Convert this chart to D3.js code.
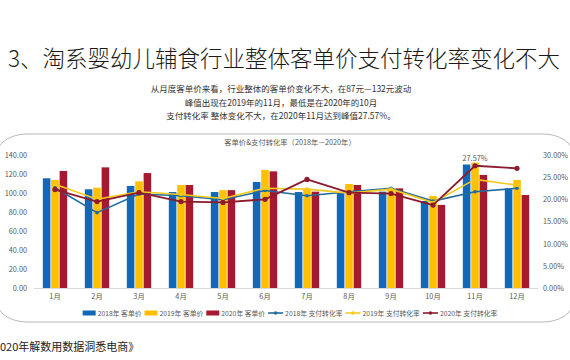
<!DOCTYPE html>
<html>
<head>
<meta charset="utf-8">
<script src="https://cdn.jsdelivr.net/npm/d3@7"></script>
<style>
  html, body { margin: 0; padding: 0; background: #fff; }
  svg { display: block; font-family: "Noto Sans CJK SC", "Noto Sans", sans-serif; }
</style>
</head>
<body>
<svg id="chart" width="570" height="360"></svg>
<script>
// ---------- data ----------
const months = ["1月","2月","3月","4月","5月","6月","7月","8月","9月","10月","11月","12月"];
const barSeries = ["2018年 客单价","2019年 客单价","2020年 客单价"];
const lineSeries = ["2018年 支付转化率","2019年 支付转化率","2020年 支付转化率"];
const price2018 = [115.5, 103.9, 107.4, 101.0, 101.0, 111.6, 101.0, 100.4, 101.4, 91.6, 130.0, 105.0];
const price2019 = [113.7, 105.6, 112.3, 108.4, 103.0, 124.2, 104.6, 109.5, 103.9, 96.8, 132.0, 113.7];
const price2020 = [123.2, 127.0, 121.0, 108.4, 103.0, 122.8, 101.4, 108.4, 104.9, 87.5, 119.0, 97.9];
const rate2018 = [0.226, 0.170, 0.212, 0.208, 0.199, 0.220, 0.208, 0.217, 0.225, 0.196, 0.217, 0.225];
const rate2019 = [0.234, 0.200, 0.217, 0.211, 0.202, 0.225, 0.223, 0.214, 0.223, 0.193, 0.245, 0.232];
const rate2020 = [0.222, 0.195, 0.215, 0.195, 0.193, 0.200, 0.245, 0.215, 0.213, 0.187, 0.2757, 0.270];
const leftTicks = [0, 20, 40, 60, 80, 100, 120, 140];
const rightTicks = [0, 0.05, 0.10, 0.15, 0.20, 0.25, 0.30];
const titleText = "3、淘系婴幼儿辅食行业整体客单价支付转化率变化不大";
const subLines = [
  "从月度客单价来看，行业整体的客单价变化不大，在87元—132元波动",
  "峰值出现在2019年的11月，最低是在2020年的10月",
  "支付转化率 整体变化不大，在2020年11月达到峰值27.57%。"
];
const chartTitle = "客单价&支付转化率（2018年—2020年）";
const footerText = "020年解数用数据洞悉电商》";
const peakLabel = "27.57%";

const barColors = ["#1268B8", "#FFC000", "#A51A30"];
const lineColors = ["#1F6C9E", "#F3C91E", "#8C1B2E"];
const priceData = [price2018, price2019, price2020];
const rateData = [rate2018, rate2019, rate2020];

// ---------- layout ----------
const svg = d3.select("#chart");
const plot = { left: 34, right: 538, top: 155, bottom: 288 };

// page title
svg.append("text").attr("x", 284).attr("y", 57)
  .attr("text-anchor", "middle").attr("dominant-baseline", "central")
  .attr("font-size", 22.5).attr("font-weight", 300).attr("fill", "#1a1a1a").text(titleText);

// subtitle
subLines.forEach((t, i) => {
  svg.append("text").attr("x", 281).attr("y", 88 + i * 13.5)
    .attr("text-anchor", "middle").attr("dominant-baseline", "central")
    .attr("font-size", 8.5).attr("fill", "#333").text(t);
});

// frame
svg.append("rect").attr("x", -3).attr("y", 134).attr("width", 576).attr("height", 188)
  .attr("rx", 30).attr("ry", 20).attr("fill", "#fff").attr("stroke", "#b8b8b8").attr("stroke-width", 1);

// chart title
svg.append("text").attr("x", 290).attr("y", 142)
  .attr("text-anchor", "middle").attr("dominant-baseline", "central")
  .attr("font-size", 7.3).attr("fill", "#595959").text(chartTitle);

// scales
const x0 = d3.scaleBand().domain(months).range([plot.left, plot.right]).paddingInner(0.38).paddingOuter(0.19);
const x1 = d3.scaleBand().domain(barSeries).range([0, x0.bandwidth()]).padding(0.1);
const yL = d3.scaleLinear().domain([0, 140]).range([plot.bottom, plot.top]);
const yR = d3.scaleLinear().domain([0, 0.30]).range([plot.bottom, plot.top]);
const cx = m => x0(m) + x0.bandwidth() / 2;

// axes
const axL = svg.append("g").attr("transform", `translate(${plot.left},0)`)
  .call(d3.axisLeft(yL).tickValues(leftTicks).tickFormat(d3.format(".2f")).tickSize(0).tickPadding(7));
const axR = svg.append("g").attr("transform", `translate(${plot.right},0)`)
  .call(d3.axisRight(yR).tickValues(rightTicks).tickFormat(d3.format(".2%")).tickSize(0).tickPadding(5));
const axB = svg.append("g").attr("transform", `translate(0,${plot.bottom})`)
  .call(d3.axisBottom(x0).tickSize(0).tickPadding(6).tickSizeOuter(0));
[axL, axR, axB].forEach(g => {
  g.select(".domain").remove();
  g.selectAll("text").attr("font-size", 7.3).attr("fill", "#595959")
    .attr("font-family", "'Noto Sans CJK SC', sans-serif");
});
svg.append("line").attr("x1", plot.left).attr("x2", plot.right)
  .attr("y1", plot.bottom + 0.5).attr("y2", plot.bottom + 0.5)
  .attr("stroke", "#d9d9d9").attr("stroke-width", 1);

// bars
barSeries.forEach((s, si) => {
  svg.append("g").selectAll("rect").data(priceData[si]).join("rect")
    .attr("x", (d, i) => x0(months[i]) + x1(s))
    .attr("width", x1.bandwidth())
    .attr("y", d => yL(d))
    .attr("height", d => yL(0) - yL(d))
    .attr("fill", barColors[si]);
});

// lines
lineSeries.forEach((s, si) => {
  const vals = rateData[si];
  const line = d3.line().x((d, i) => cx(months[i])).y(d => yR(d));
  svg.append("path").datum(vals).attr("d", line)
    .attr("fill", "none").attr("stroke", lineColors[si]).attr("stroke-width", si === 2 ? 1.8 : 1.6)
    .attr("stroke-linejoin", "round");
  svg.append("g").selectAll("circle").data(vals).join("circle")
    .attr("cx", (d, i) => cx(months[i])).attr("cy", d => yR(d))
    .attr("r", si === 2 ? 2.6 : 1.8).attr("fill", lineColors[si]);
});

// peak label
const peakIdx = rate2020.indexOf(d3.max(rate2020));
svg.append("text").attr("x", cx(months[peakIdx])).attr("y", yR(rate2020[peakIdx]) - 5)
  .attr("text-anchor", "middle").attr("font-size", 7.3).attr("fill", "#595959").text(peakLabel);

// legend
const legend = svg.append("g");
const items = barSeries.map((s, i) => ({ name: s, type: "bar", color: barColors[i] }))
  .concat(lineSeries.map((s, i) => ({ name: s, type: "line", color: lineColors[i] })));
let lx = 0;
const ly = 313;
items.forEach(it => {
  const g = legend.append("g").attr("transform", `translate(${lx},0)`);
  if (it.type === "bar") {
    g.append("rect").attr("x", 0).attr("y", ly - 2.5).attr("width", 13).attr("height", 5).attr("fill", it.color);
  } else {
    g.append("line").attr("x1", 0).attr("x2", 15).attr("y1", ly).attr("y2", ly)
      .attr("stroke", it.color).attr("stroke-width", 1.6);
    g.append("circle").attr("cx", 7.5).attr("cy", ly).attr("r", 1.8).attr("fill", it.color);
  }
  const sw = it.type === "bar" ? 13 : 15;
  const t = g.append("text").attr("x", sw + 2).attr("y", ly).attr("dominant-baseline", "central")
    .attr("font-size", 6.8).attr("fill", "#595959").text(it.name);
  lx += sw + 2 + t.node().getComputedTextLength() + 3;
});
legend.attr("transform", `translate(${290 - (lx - 3) / 2},0)`);

// footer
svg.append("text").attr("x", 0).attr("y", 346).attr("dominant-baseline", "central")
  .attr("font-size", 11).attr("fill", "#222").text(footerText);
</script>
</body>
</html>
